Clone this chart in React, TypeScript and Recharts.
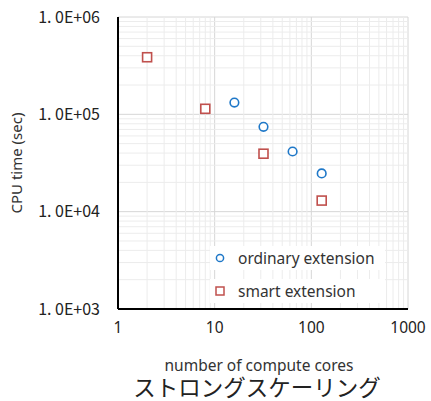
import React from "react";
import { ScatterChart, Scatter, XAxis, YAxis, CartesianGrid, Label, ReferenceLine } from "recharts";

// strong scaling: CPU time vs number of compute cores
const ordinaryCores = [16, 32, 64, 128];
const ordinaryTime = [132000, 74500, 41500, 24700];
const smartCores = [2, 8, 32, 128];
const smartTime = [386000, 114000, 39400, 13000];

const xTicks = [1, 10, 100, 1000];
const yTicks = [1e3, 1e4, 1e5, 1e6];
const seriesNames = ["ordinary extension", "smart extension"];
const xLabel = "number of compute cores";
const yLabel = "CPU time (sec)";
const title = "ストロングスケーリング";

const BLUE = "#1f78c8";
const RED = "#c0504d";

// minor log gridlines: 2..9 in every decade
const minorOf = (ticks: number[]) =>
  ticks.slice(0, -1).flatMap((t) => [2, 3, 4, 5, 6, 7, 8, 9].map((m) => t * m));

const ordinaryData = ordinaryCores.map((c, i) => ({ cores: c, time: ordinaryTime[i] }));
const smartData = smartCores.map((c, i) => ({ cores: c, time: smartTime[i] }));

const fmtY = (v: number) => `1. 0E+0${Math.round(Math.log10(v))}`;

const Circle = (p: any) => (
  <circle cx={p.cx} cy={p.cy} r={4.3} fill="#fff" stroke={BLUE} strokeWidth={1.6} />
);
const Square = (p: any) => (
  <rect x={p.cx - 4.5} y={p.cy - 4.5} width={9} height={9} fill="#fff" stroke={RED} strokeWidth={1.6} />
);

const LegendBox = () => (
  <div
    style={{
      position: "absolute", left: 210, top: 246, width: 175,
      fontFamily: "'Noto Sans', sans-serif", fontSize: 15.5, color: "#333",
    }}
  >
    {seriesNames.map((name, i) => (
      <div
        key={name}
        style={{ display: "flex", alignItems: "center", background: "#fff", height: 24, marginBottom: 9, paddingLeft: 4 }}
      >
        <svg width={16} height={12} style={{ marginRight: 8 }}>
          {i === 0 ? (
            <circle cx={6} cy={6} r={3.6} fill="#fff" stroke={BLUE} strokeWidth={1.5} />
          ) : (
            <rect x={2} y={2} width={8} height={8} fill="#fff" stroke={RED} strokeWidth={1.5} />
          )}
        </svg>
        <span>{name}</span>
      </div>
    ))}
  </div>
);

export default function App() {
  const axisFont = { fontFamily: "'Noto Sans', sans-serif", fontSize: 15.5, fill: "#222" };
  return (
    <div style={{ width: 431, height: 401, position: "relative" }}>
      <style>{"body{margin:0}"}</style>
      <ScatterChart width={431} height={401} margin={{ top: 17, right: 23, left: 0, bottom: 0 }}>
        {minorOf(xTicks).map((v) => (
          <ReferenceLine key={"mx" + v} x={v} stroke="#ececec" strokeWidth={1} ifOverflow="hidden" />
        ))}
        {minorOf(yTicks).map((v) => (
          <ReferenceLine key={"my" + v} y={v} stroke="#ececec" strokeWidth={1} ifOverflow="hidden" />
        ))}
        <CartesianGrid stroke="#d6d6d6" strokeWidth={1} />
        <XAxis
          dataKey="cores"
          type="number"
          scale="log"
          domain={[1, 1000]}
          ticks={xTicks}
          allowDataOverflow
          height={92}
          tickLine={false}
          tickSize={0}
          tickMargin={13}
          axisLine={{ stroke: "#000", strokeWidth: 2 }}
          tick={axisFont}
        >
          <Label value={xLabel} position="insideBottom" offset={30} dx={-4}
            style={{ fontFamily: "'Noto Sans', sans-serif", fontSize: 15.5, fill: "#333" }} />
          <Label value={title} position="insideBottom" offset={5} dx={-6}
            style={{ fontFamily: "'Noto Sans CJK JP', sans-serif", fontSize: 22.5, fill: "#222" }} />
        </XAxis>
        <YAxis
          dataKey="time"
          type="number"
          scale="log"
          domain={[1e3, 1e6]}
          ticks={yTicks}
          allowDataOverflow
          width={118}
          tickLine={false}
          tickSize={0}
          tickMargin={18}
          tickFormatter={fmtY}
          axisLine={{ stroke: "#000", strokeWidth: 2 }}
          tick={{ fontFamily: "'Noto Sans CJK JP', sans-serif", fontSize: 16, fill: "#222" }}
        >
          <Label value={yLabel} angle={-90} position="insideLeft" offset={17}
            style={{ textAnchor: "middle", fontFamily: "'Noto Sans', sans-serif", fontSize: 15, fill: "#333" }} />
        </YAxis>
        <XAxis xAxisId="top" orientation="top" type="number" scale="log" domain={[1, 1000]} ticks={xTicks}
          allowDataOverflow height={0} tick={false} tickLine={false} axisLine={{ stroke: "#000", strokeWidth: 2 }} />
        <YAxis yAxisId="right" orientation="right" type="number" scale="log" domain={[1e3, 1e6]} ticks={yTicks}
          allowDataOverflow width={0} tick={false} tickLine={false} axisLine={{ stroke: "#000", strokeWidth: 2 }} />
        <Scatter name={seriesNames[0]} data={ordinaryData} shape={Circle} isAnimationActive={false} />
        <Scatter name={seriesNames[1]} data={smartData} shape={Square} isAnimationActive={false} />
      </ScatterChart>
      <LegendBox />
    </div>
  );
}
